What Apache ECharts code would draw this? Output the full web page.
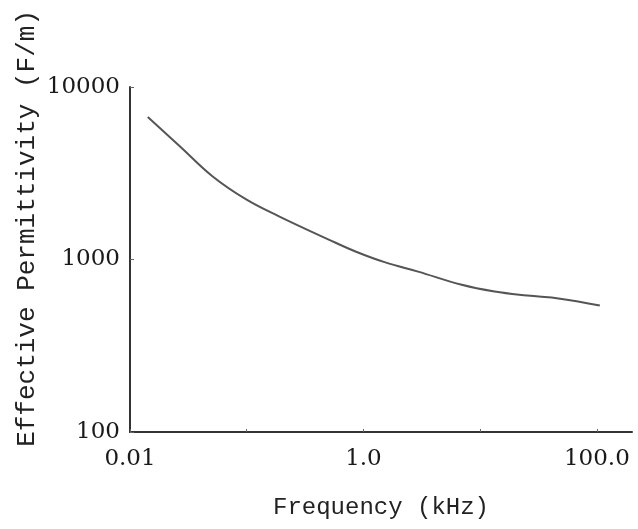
<!DOCTYPE html>
<html>
<head>
<meta charset="utf-8">
<script src="https://cdn.jsdelivr.net/npm/echarts@6/dist/echarts.min.js"></script>
<style>
  html, body { margin: 0; padding: 0; background: #fff; }
  #chart { width: 638px; height: 529px; }
</style>
</head>
<body>
<div id="chart"></div>
<script>
// frequency (kHz) and effective permittivity (F/m)
const freq = [0.0142, 0.0267, 0.0508, 0.099, 0.189, 0.504, 0.855, 1.54, 2.94, 6.82, 13.3, 25.3, 48.4, 106];
const permittivity = [6700, 4540, 3040, 2230, 1780, 1305, 1113, 962, 851, 716, 652, 618, 593, 541];
const xLabels = { "0.01": "0.01", "1": "1.0", "100": "100.0" };
const yLabels = ["100", "1000", "10000"];

const chart = echarts.init(document.getElementById("chart"));

let points = [];
for (let i = 0; i < freq.length; i++) {
  points.push([freq[i], permittivity[i]]);
}

const tickFont = { fontFamily: "DejaVu Serif", fontSize: 23, color: "#1a1a1a" };

const option = {
  backgroundColor: "#fff",
  animation: false,
  grid: { left: 130, right: 6, top: 87, bottom: 97 },
  // y axis title sits higher than the axis middle in the original
  graphic: [
    {
      type: "text",
      left: 14,
      top: 10,
      rotation: Math.PI / 2,
      style: {
        text: "Effective Permittivity (F/m)",
        font: '26px "Liberation Mono"',
        fill: "#222"
      }
    }
  ],
  xAxis: {
    type: "log",
    logBase: 10,
    min: 0.01,
    max: 200,
    name: "Frequency (kHz)",
    nameLocation: "middle",
    nameGap: 64,
    nameTextStyle: { fontFamily: "Liberation Mono", fontSize: 24, color: "#222" },
    axisLine: { lineStyle: { color: "#333", width: 2 } },
    axisTick: { inside: true, length: 3, lineStyle: { color: "#666" } },
    splitLine: { show: false },
    axisLabel: Object.assign({
      margin: 16,
      showMaxLabel: false,
      formatter: function (v) {
        let key = String(+v.toPrecision(3));
        return xLabels[key] || "";
      }
    }, tickFont)
  },
  yAxis: {
    type: "log",
    logBase: 10,
    min: 100,
    max: 10000,
    axisLine: { lineStyle: { color: "#333", width: 2 } },
    axisTick: { inside: true, length: 4, lineStyle: { color: "#666" } },
    splitLine: { show: false },
    axisLabel: Object.assign({
      margin: 10,
      formatter: function (v) {
        let s = String(Math.round(v));
        return yLabels.includes(s) ? s : "";
      }
    }, tickFont)
  },
  series: [
    {
      type: "line",
      data: points,
      smooth: 0.4,
      symbol: "none",
      lineStyle: { color: "#555", width: 2 }
    }
  ]
};

chart.setOption(option);
</script>
</body>
</html>
